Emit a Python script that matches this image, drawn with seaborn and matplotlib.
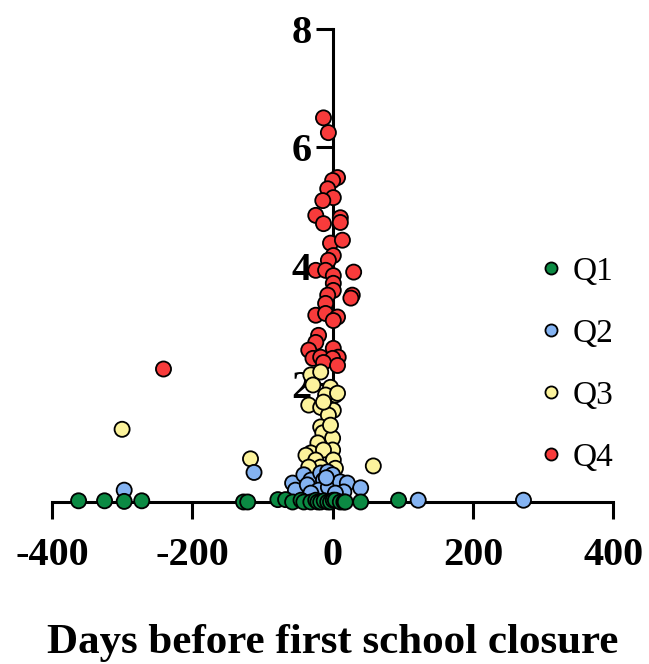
import matplotlib.pyplot as plt
import pandas as pd
import seaborn as sns

# values
quartiles = ['Q1', 'Q2', 'Q3', 'Q4']
colors = ['#0b8a43', '#84b3f2', '#fcf39c', '#f83b3b']

q1_days = [-362, -325, -297, -272, -127, -121, -78, -67, -57, -45, -41, -31, -24,
           -21, -17, -12, -7, -3, 1, 4, 11, 16, 18, 40, 94]
q1_vals = [0.02, 0.02, 0.01, 0.02, 0.0, 0.0, 0.04, 0.04, 0.0, 0.03, 0.0, 0.0, 0.03,
           0.0, 0.0, 0.02, 0.0, 0.0, 0.03, 0.03, 0.0, 0.0, 0.0, 0.0, 0.03]

q2_days = [-297, -112, -57, -53, -41, -31, -36, -17, -7, 0, -13, -20, -6, 11, 21,
           16, 40, -31, 4, -9, 122, 272]
q2_vals = [0.2, 0.5, 0.32, 0.2, 0.46, 0.37, 0.29, 0.49, 0.51, 0.46, 0.37, 0.2, 0.25,
           0.34, 0.32, 0.17, 0.24, 0.15, 0.15, 0.41, 0.03, 0.03]

q3_days = [-300, -117, 58, -31, -17, -28, -3, 4, -10, -34, -17, 1, -6, -13, 7, -17,
           -14, 0, -21, 0, -31, -13, -38, -24, 1, 4, -17, -34, -3]
q3_vals = [1.23, 0.73, 0.61, 2.15, 2.2, 1.98, 1.94, 1.81, 1.81, 1.64, 1.6, 1.55, 1.47,
           1.69, 1.84, 1.27, 1.17, 1.08, 1.0, 0.88, 0.83, 0.88, 0.79, 0.71, 0.71, 0.57,
           0.59, 0.59, 1.3]

q4_days = [-241, -13, -6, 7, 0, -7, 1, -14, -24, -13, 11, 11, -3, 14, 1, -6, -24, -10,
           1, 30, 1, 1, 28, 26, -7, -10, -24, -10, 7, 1, -20, -24, -34, -28, -17, 1,
           8, 0, -13, 7]
q4_vals = [2.25, 6.5, 6.25, 5.49, 5.44, 5.3, 5.15, 5.1, 4.85, 4.71, 4.81, 4.73, 4.38,
           4.43, 4.17, 4.09, 3.92, 3.92, 3.83, 3.89, 3.7, 3.58, 3.5, 3.45, 3.5, 3.36,
           3.16, 3.19, 3.13, 3.07, 2.82, 2.7, 2.57, 2.43, 2.45, 2.6, 2.45, 2.43, 2.36,
           2.31]

# draw Q4 first so the lower quartiles sit on top
frames = []
for name, d, v in [('Q4', q4_days, q4_vals), ('Q3', q3_days, q3_vals),
                   ('Q2', q2_days, q2_vals), ('Q1', q1_days, q1_vals)]:
    frames.append(pd.DataFrame({'days': d, 'value': v, 'quartile': name}))
df = pd.concat(frames, ignore_index=True)

sns.set_style('ticks')
plt.rcParams['font.family'] = ['Liberation Serif', 'DejaVu Serif']
plt.rcParams['axes.unicode_minus'] = False
plt.rcParams['text.color'] = 'black'

fig = plt.figure(figsize=(6.49, 6.64), dpi=100)
ax = fig.add_axes([0.080, 0.244, 0.865, 0.712])
sns.scatterplot(data=df, x='days', y='value', hue='quartile', hue_order=quartiles,
                palette=colors, s=118, edgecolor='black', linewidth=1.3,
                ax=ax, zorder=3, clip_on=False)

ax.set_xlim(-400, 400)
ax.set_ylim(0, 8)
ax.spines['left'].set_position(('data', 0))
ax.spines['right'].set_visible(False)
ax.spines['top'].set_visible(False)
for s in ['left', 'bottom']:
    ax.spines[s].set_linewidth(2.2)
    ax.spines[s].set_color('black')
ax.set_xticks([-400, -200, 0, 200, 400])
ax.set_yticks([2, 4, 6, 8])
ax.tick_params(axis='both', direction='out', length=12, width=2.2, labelsize=29,
               color='black', labelcolor='black')
ax.tick_params(axis='x', pad=13)
ax.tick_params(axis='y', pad=3)
for lbl in ax.get_xticklabels() + ax.get_yticklabels():
    lbl.set_fontweight('bold')
ax.set_ylabel('')
ax.set_xlabel('Days before first school closure', fontsize=31, fontweight='bold',
              labelpad=36, color='black')

ax.legend(loc='center', bbox_to_anchor=(0.884, 0.451), bbox_transform=fig.transFigure,
          frameon=False, fontsize=24, labelspacing=0.95, handlelength=1,
          handletextpad=0.15, markerscale=0.8)

fig.savefig('out.png', dpi=100)
